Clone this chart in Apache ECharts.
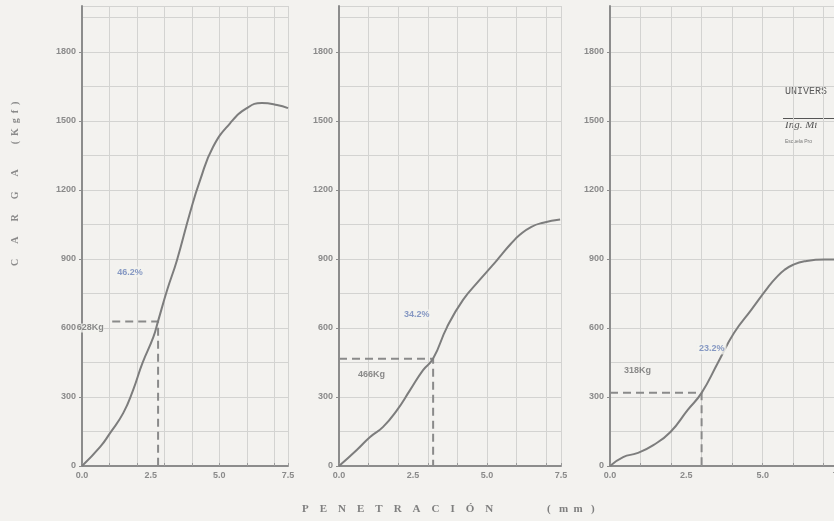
<!DOCTYPE html>
<html>
<head>
<meta charset="utf-8">
<script src="https://cdn.jsdelivr.net/npm/echarts@6/dist/echarts.min.js"></script>
<style>
  html, body { margin: 0; padding: 0; background: #f3f2ef; }
  #chart { width: 834px; height: 521px; }
</style>
</head>
<body>
<div id="chart"></div>
<script>
// penetracion (mm) vs carga (kg) - three specimens
const pen1 = [0, 0.66, 1.02, 1.5, 1.86, 2.2, 2.6, 2.77, 3.1, 3.46, 3.93, 4.3, 4.77, 5.39, 6.0, 6.55, 7.1, 7.5]
const load1 = [0, 83, 143, 230, 330, 447, 561, 630, 765, 896, 1100, 1243, 1387, 1490, 1556, 1578, 1570, 1556]
const pen2 = [0, 0.6, 1.05, 1.49, 1.96, 2.4, 2.84, 3.18, 3.65, 4.19, 4.76, 5.17, 5.5, 5.8, 6.11, 6.5, 6.9, 7.47]
const load2 = [0, 70, 126, 170, 243, 330, 417, 467, 604, 722, 810, 870, 920, 965, 1005, 1040, 1058, 1072]
const pen3 = [0, 0.43, 0.89, 1.42, 1.98, 2.54, 3.0, 3.53, 4.06, 4.62, 5.18, 5.45, 5.71, 6.0, 6.37, 7.03, 7.5]
const load3 = [0, 39, 56, 91, 148, 243, 318, 448, 578, 678, 778, 820, 852, 875, 890, 898, 898]

// dashed reference lines (x, y points)
const guide1 = [[1.1, 628], [2.77, 628], [2.77, 0]]
const guide2 = [[0, 466], [3.18, 466], [3.18, 0]]
const guide3 = [[0, 318], [3.0, 318], [3.0, 0]]

// label anchors: [x, y, text]
const kgLabels = [[0.3, 600, '628Kg'], [1.1, 396, '466Kg'], [0.9, 417, '318Kg']]
const pctLabels = [[1.75, 843, '46.2%'], [2.63, 657, '34.2%'], [3.33, 509, '23.2%']]

const yTicks = [0, 300, 600, 900, 1200, 1500, 1800]

const grey = '#7d7d7d'
const gridColor = '#d3d3d1'
const bg = '#f3f2ef'

const panels = [
    { left: 82, width: 206, pen: pen1, load: load1, guide: guide1 },
    { left: 339, width: 222, pen: pen2, load: load2, guide: guide2 },
    { left: 610, width: 229, pen: pen3, load: load3, guide: guide3 }
]

const grid = [], xAxis = [], yAxis = [], series = []
const labelFont = { fontSize: 9, fontWeight: 'bold', color: '#8a8a8a', fontFamily: 'Liberation Sans' }

panels.forEach((p, i) => {
    grid.push({ left: p.left, width: p.width, top: 6, height: 460, outerBoundsMode: 'none', containLabel: false })
    // x: labels every 2.5
    xAxis.push({
        type: 'value', gridIndex: i, min: 0, max: 7.5, interval: 2.5,
        axisLine: { show: true, lineStyle: { color: '#8c8c8c', width: 2 } },
        axisTick: { show: false },
        splitLine: { show: false },
        axisLabel: Object.assign({ margin: 5, formatter: v => v.toFixed(1) }, labelFont)
    })
    // x: grid every 1 mm
    xAxis.push({
        type: 'value', gridIndex: i, min: 0, max: 7.5, interval: 1,
        axisLine: { show: false },
        axisTick: { show: true, length: 3, lineStyle: { color: '#9a9a9a' } },
        axisLabel: { show: false },
        splitLine: { show: true, lineStyle: { color: gridColor, width: 1 } }
    })
    yAxis.push({
        type: 'value', gridIndex: i, min: 0, max: 2000, interval: 300,
        axisLine: { show: true, lineStyle: { color: '#8c8c8c', width: 2 } },
        axisTick: { show: true, length: 3, lineStyle: { color: '#8c8c8c' } },
        splitLine: { show: false },
        axisLabel: Object.assign({ margin: 6, showMaxLabel: false,
            formatter: v => yTicks.indexOf(v) >= 0 ? String(v) : '' }, labelFont)
    })
    yAxis.push({
        type: 'value', gridIndex: i, min: 0, max: 2000, interval: 150,
        axisLine: { show: false }, axisTick: { show: false }, axisLabel: { show: false },
        splitLine: { show: true, lineStyle: { color: gridColor, width: 1 } }
    })

    series.push({
        type: 'line', xAxisIndex: i * 2, yAxisIndex: i * 2,
        data: p.guide, symbol: 'none', z: 3,
        lineStyle: { color: '#8a8a8a', width: 2, type: [8, 5] }
    })
    series.push({
        type: 'line', xAxisIndex: i * 2, yAxisIndex: i * 2,
        data: p.pen.map((x, k) => [x, p.load[k]]),
        symbol: 'none', smooth: 0.5, z: 4,
        lineStyle: { color: grey, width: 2 }
    })
    series.push({
        type: 'scatter', xAxisIndex: i * 2, yAxisIndex: i * 2,
        symbolSize: 0, z: 5, silent: true,
        data: [
            { value: kgLabels[i].slice(0, 2), label: { formatter: kgLabels[i][2], color: '#6f6f6f', backgroundColor: i === 0 ? bg : 'transparent' } },
            { value: pctLabels[i].slice(0, 2), label: { formatter: pctLabels[i][2], color: '#6b82b8', backgroundColor: bg, padding: [1, 2] } }
        ],
        label: { show: true, position: 'inside', fontSize: 9, fontWeight: 'bold', fontFamily: 'Liberation Sans' }
    })
})

const titleFont = 'bold 11px "Liberation Serif"'
const chart = echarts.init(document.getElementById('chart'))
chart.setOption({
    backgroundColor: bg,
    animation: false,
    grid, xAxis, yAxis, series,
    graphic: [
        { type: 'text', x: 15, y: 266, rotation: Math.PI / 2, style: {
            text: 'C      A      R      G      A          (  K  g  f  )', fill: '#8a8a8a',
            font: 'bold 10px "Liberation Serif"', verticalAlign: 'middle' } },
        { type: 'text', x: 302, y: 509, style: {
            text: 'P    E    N    E    T    R    A    C    I    Ó    N', fill: '#7f7f7f',
            font: titleFont, verticalAlign: 'middle' } },
        { type: 'text', x: 547, y: 509, style: {
            text: '(   m  m   )', fill: '#7f7f7f', font: titleFont, verticalAlign: 'middle' } },
        { type: 'text', x: 785, y: 86, style: {
            text: 'UNIVERS', fill: '#5a5a5a', font: '10px "Liberation Mono"' } },
        { type: 'line', shape: { x1: 783, y1: 118.5, x2: 834, y2: 118.5 }, style: { stroke: '#555', lineWidth: 1 } },
        { type: 'text', x: 785, y: 120, style: {
            text: 'Ing. Mi', fill: '#555', font: 'italic 11px "Liberation Serif"' } },
        { type: 'text', x: 785, y: 139, style: {
            text: 'Escuela Pro', fill: '#777', font: '5px "Liberation Sans"' } }
    ]
})
</script>
</body>
</html>
